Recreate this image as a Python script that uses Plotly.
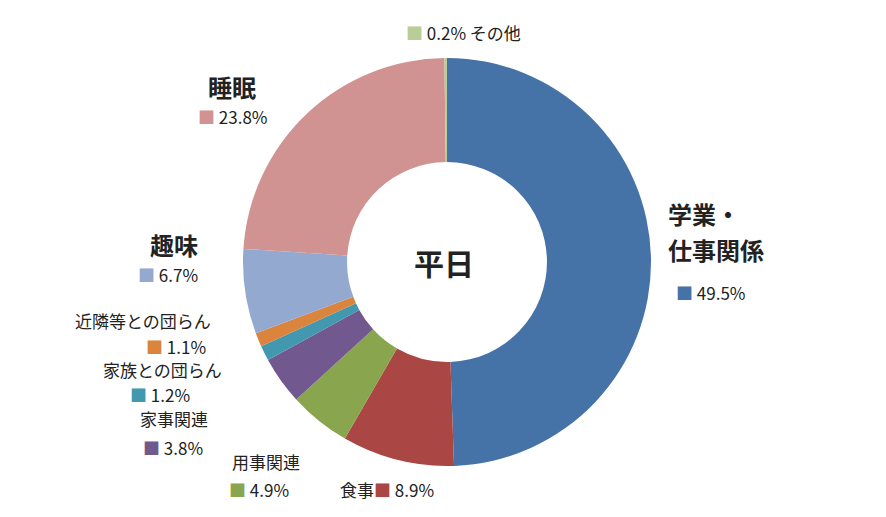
import plotly.graph_objects as go

categories = ["学業・仕事関係", "食事", "用事関連", "家事関連", "家族との団らん", "近隣等との団らん", "趣味", "睡眠", "その他"]
values = [49.5, 8.9, 4.9, 3.8, 1.2, 1.1, 6.7, 23.8, 0.2]
colors = ["#4572A7", "#AA4643", "#89A54E", "#71588F", "#4198AF", "#DB843D", "#93A9CF", "#D19392", "#B9CD96"]

W, H = 886, 517
OX, OY = -8, -8
fig = go.Figure(go.Pie(
    labels=categories, values=values, sort=False, direction="clockwise", rotation=0,
    hole=0.49, marker=dict(colors=colors, line=dict(color="white", width=0)),
    textinfo="none", hoverinfo="label+percent", showlegend=False,
    domain=dict(x=[(243+OX)/W, (651+OX)/W], y=[(H-466-OY)/H, (H-58-OY)/H]),
))

FONT = "Noto Sans CJK JP, sans-serif"
def sq(i):
    return f"<span style='color:{colors[i]}'>■</span>"
def ann(x, y, text, size=17, bold=False, xanchor="left"):
    if bold:
        text = f"<b>{text}</b>"
    fig.add_annotation(x=(x+OX)/W, y=1-(y+OY)/H, xref="paper", yref="paper", text=text, showarrow=False,
                       xanchor=xanchor, yanchor="middle", font=dict(family=FONT, size=size, color="#222"))

ann(666, 213, "学業・", 24, True)
ann(666, 249, "仕事関係", 24, True)
ann(674, 292, f"{sq(0)} {values[0]}%")
ann(206, 86, "睡眠", 24, True)
ann(196, 117, f"{sq(7)} {values[7]}%")
ann(148, 244, "趣味", 24, True)
ann(136, 274, f"{sq(6)} {values[6]}%")
ann(73, 320, "近隣等との団らん")
ann(144, 346, f"{sq(5)} {values[5]}%")
ann(101, 369, "家族との団らん")
ann(128, 394, f"{sq(4)} {values[4]}%")
ann(138, 418, "家事関連")
ann(141, 447, f"{sq(3)} {values[3]}%")
ann(230, 461, "用事関連")
ann(227, 489, f"{sq(2)} {values[2]}%")
ann(338, 489, f"食事{sq(1)} {values[1]}%")
ann(404, 33, f"{sq(8)} {values[8]}% その他")
ann(444, 262, "平日", 30, True, xanchor="center")

fig.update_layout(width=W, height=H, margin=dict(l=0, r=0, t=0, b=0),
                  paper_bgcolor="white", plot_bgcolor="white")
fig.write_html("out.html")
